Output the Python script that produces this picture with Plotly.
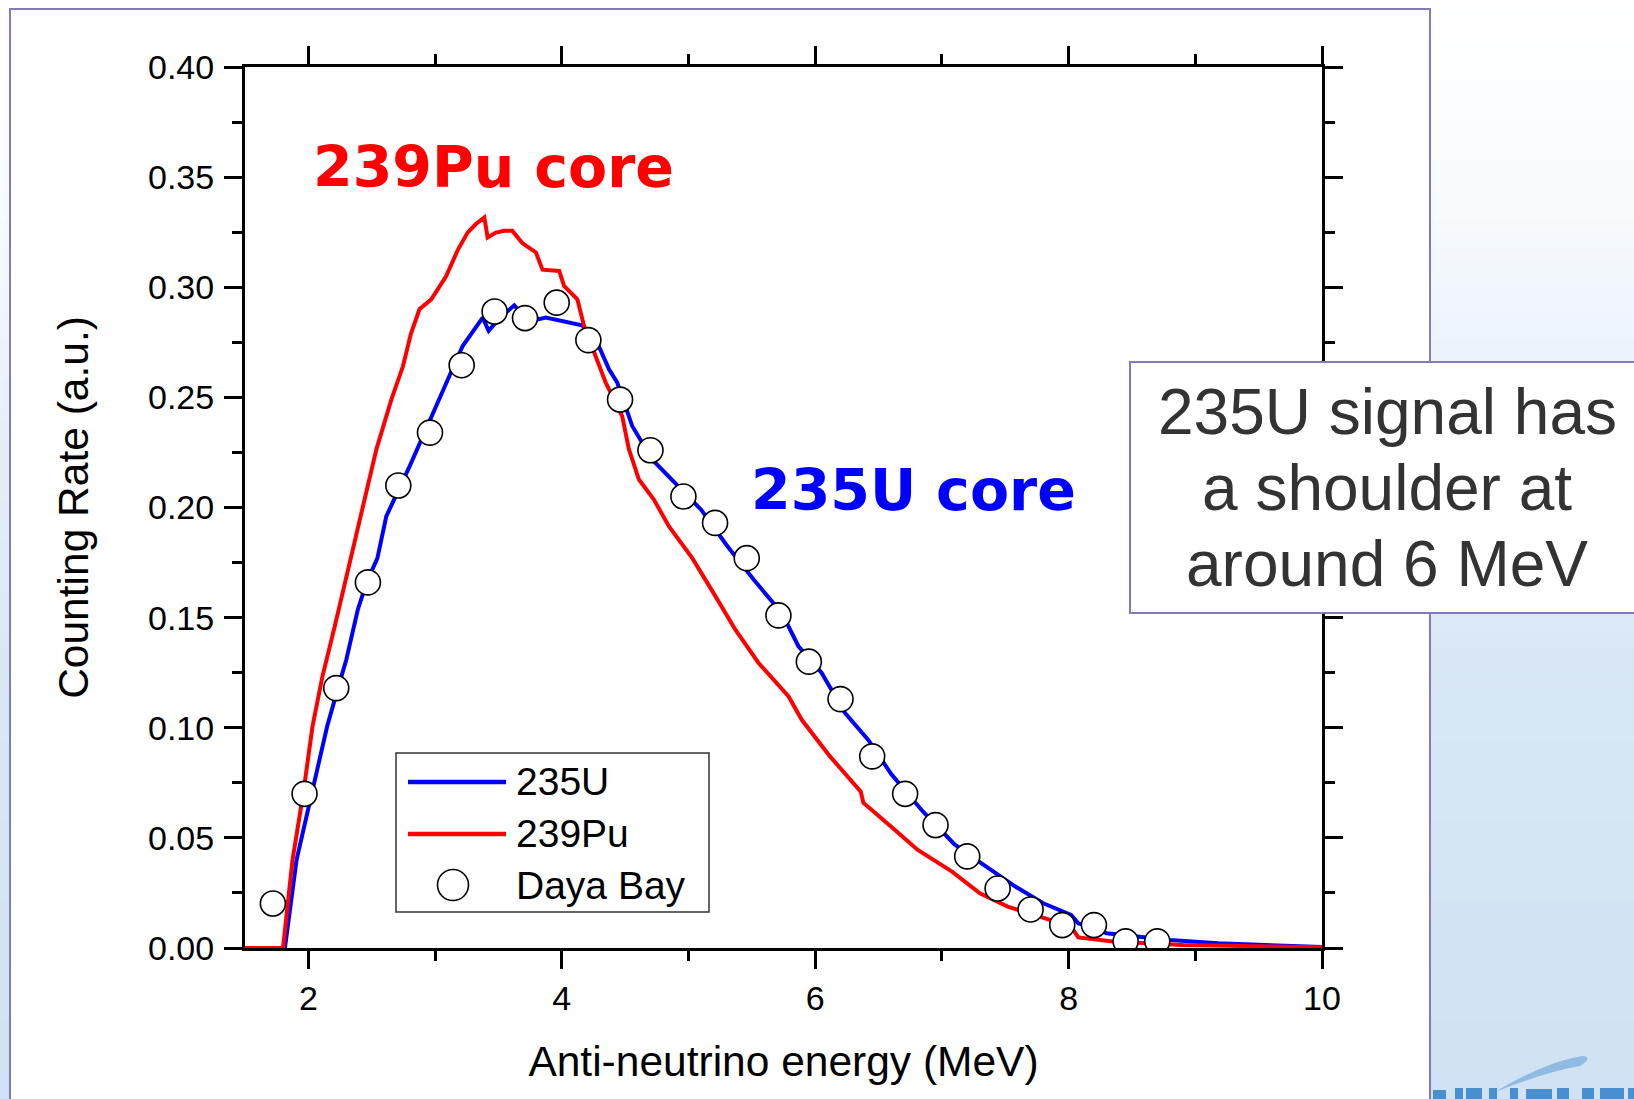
import plotly.graph_objects as go

# ---------------- data ----------------
u235_energy = [1.50, 1.815, 1.907, 2.025, 2.148, 2.234, 2.30, 2.39, 2.46, 2.545, 2.615,
               2.80, 2.97, 3.113, 3.218, 3.376, 3.423, 3.48, 3.56, 3.625, 3.664, 3.82,
               3.874, 4.005, 4.16, 4.268, 4.373, 4.438, 4.556, 4.713, 4.898, 5.10, 5.30,
               5.514, 5.737, 5.868, 6.05, 6.236, 6.419, 6.60, 6.85, 7.10, 7.31, 7.58,
               7.80, 8.02, 8.077, 8.30, 8.80, 9.18, 10.0]
u235_rate = [0.0, 0.0, 0.040, 0.0703, 0.1006, 0.118, 0.131, 0.1536, 0.166, 0.177, 0.196,
             0.2188, 0.2415, 0.2597, 0.2733, 0.2862, 0.2802, 0.284, 0.2885, 0.2918, 0.2892, 0.2855,
             0.2862, 0.2847, 0.2827, 0.2764, 0.2627, 0.2567, 0.237, 0.2218, 0.2112, 0.199, 0.183,
             0.1673, 0.152, 0.137, 0.125, 0.1067, 0.0945, 0.079, 0.062, 0.047, 0.0385, 0.0279,
             0.0203, 0.015, 0.0112, 0.0067, 0.0036, 0.0021, 0.0005]

pu239_energy = [1.50, 1.80, 1.875, 1.96, 2.033, 2.11, 2.208, 2.30, 2.34, 2.444, 2.537,
                2.655, 2.746, 2.81, 2.877, 2.97, 3.087, 3.18, 3.257, 3.32, 3.389, 3.415,
                3.48, 3.546, 3.61, 3.69, 3.796, 3.848, 3.98, 4.018, 4.123, 4.176, 4.268,
                4.347, 4.477, 4.53, 4.609, 4.727, 4.845, 5.03, 5.21, 5.37, 5.553, 5.79,
                5.894, 6.117, 6.36, 6.38, 6.60, 6.81, 7.08, 7.30, 7.52, 7.80, 8.02,
                8.077, 8.35, 8.90, 10.0]
pu239_rate = [0.0, 0.0, 0.040, 0.0703, 0.1006, 0.123, 0.146, 0.169, 0.177, 0.2036, 0.2264,
              0.249, 0.264, 0.279, 0.290, 0.2945, 0.305, 0.317, 0.3248, 0.3286, 0.3317, 0.3226,
              0.3248, 0.3256, 0.3256, 0.320, 0.3158, 0.308, 0.3074, 0.3006, 0.2945, 0.2824, 0.2688,
              0.2567, 0.2415, 0.2264, 0.2127, 0.2036, 0.1915, 0.177, 0.160, 0.1445, 0.1294, 0.1142,
              0.1036, 0.087, 0.071, 0.066, 0.055, 0.0445, 0.0347, 0.0248, 0.0188, 0.0135, 0.0097,
              0.0048, 0.0029, 0.0014, 0.0003]

dayabay_energy = [1.72, 1.97, 2.22, 2.47, 2.71, 2.96, 3.21, 3.47, 3.71, 3.96, 4.21, 4.46,
                  4.70, 4.96, 5.21, 5.46, 5.71, 5.95, 6.20, 6.45, 6.71, 6.95, 7.20, 7.44,
                  7.70, 7.95, 8.20, 8.45, 8.70]
dayabay_rate = [0.0202, 0.070, 0.118, 0.166, 0.210, 0.234, 0.2646, 0.289, 0.286, 0.293, 0.276, 0.249,
                0.226, 0.205, 0.193, 0.177, 0.151, 0.130, 0.113, 0.087, 0.070, 0.0558, 0.0416, 0.027,
                0.0175, 0.0104, 0.0104, 0.003, 0.003]

x_tick_values = [2, 4, 6, 8, 10]
x_minor_values = [3, 5, 7, 9]
y_tick_values = [0.00, 0.05, 0.10, 0.15, 0.20, 0.25, 0.30, 0.35, 0.40]
y_tick_labels = ["0.00", "0.05", "0.10", "0.15", "0.20", "0.25", "0.30", "0.35", "0.40"]
y_minor_values = [0.025, 0.075, 0.125, 0.175, 0.225, 0.275, 0.325, 0.375]

series_names = ["235U", "239Pu", "Daya Bay"]
info_lines = ["235U signal has", "a shoulder at", "around 6 MeV"]

# ---------------- layout geometry ----------------
W, H = 1634, 1099
L, R, T, B = 245, 1322, 67, 948


def px(x):
    return (x - L) / (R - L)


def py(y):
    return (B - y) / (B - T)


ARIAL = "Arial, 'Liberation Sans', sans-serif"
BLUE = "#0000ff"
RED = "#ff0000"
PURPLE = "#8478c0"
LOGO = "#4a8fd0"

fig = go.Figure()

fig.add_trace(go.Scatter(x=u235_energy, y=u235_rate, mode="lines", name=series_names[0],
                         line=dict(color=BLUE, width=4), cliponaxis=False, showlegend=False))
fig.add_trace(go.Scatter(x=pu239_energy, y=pu239_rate, mode="lines", name=series_names[1],
                         line=dict(color=RED, width=4), cliponaxis=False, showlegend=False))
fig.add_trace(go.Scatter(x=dayabay_energy, y=dayabay_rate, mode="markers", name=series_names[2],
                         marker=dict(symbol="circle", size=25, color="white",
                                     line=dict(color="black", width=1.6)),
                         cliponaxis=True, showlegend=False))

shapes = []
# background gradient (slide background)
stops = [(0, (255, 255, 255)), (200, (248, 251, 254)), (450, (228, 238, 248)),
         (700, (216, 231, 245)), (1099, (208, 226, 243))]
step = 10
for y0 in range(0, H, step):
    yc = y0 + step / 2
    for i in range(len(stops) - 1):
        if stops[i][0] <= yc <= stops[i + 1][0]:
            a, ca = stops[i]
            b, cb = stops[i + 1]
            t = (yc - a) / (b - a)
            col = tuple(round(ca[k] + (cb[k] - ca[k]) * t) for k in range(3))
            break
    shapes.append(dict(type="rect", xref="paper", yref="paper", layer="below",
                       x0=px(-5), x1=px(W + 5), y0=py(y0), y1=py(y0 + step + 1),
                       fillcolor="rgb(%d,%d,%d)" % col, line=dict(width=0)))
# logo swoosh
shapes.append(dict(type="path", xref="paper", yref="paper", layer="below",
                   path="M %f,%f Q %f,%f %f,%f Q %f,%f %f,%f Q %f,%f %f,%f Z" % (
                       px(1495), py(1092), px(1545), py(1062), px(1582), py(1056),
                       px(1594), py(1057), px(1580), py(1066),
                       px(1545), py(1072), px(1495), py(1092)),
                   fillcolor="#8fbbe3", line=dict(width=0)))
# tops of the logo lettering (cut by the picture edge)
for x0, x1, y0 in [(1433, 1446, 1090), (1455, 1463, 1088), (1466, 1482, 1088),
                   (1489, 1497, 1088), (1510, 1518, 1088), (1526, 1552, 1089),
                   (1557, 1569, 1088), (1582, 1594, 1088), (1600, 1624, 1088),
                   (1628, 1640, 1088)]:
    shapes.append(dict(type="rect", xref="paper", yref="paper", layer="below",
                       x0=px(x0), x1=px(x1), y0=py(y0), y1=py(H + 5),
                       fillcolor=LOGO, line=dict(width=0)))
# white slide panel with purple outline
shapes.append(dict(type="rect", xref="paper", yref="paper", layer="below",
                   x0=px(10), x1=px(1430), y0=py(9), y1=py(1130),
                   fillcolor="white", line=dict(color=PURPLE, width=2)))
# legend box and symbols
shapes.append(dict(type="rect", xref="paper", yref="paper", layer="above",
                   x0=px(396), x1=px(709), y0=py(753), y1=py(912),
                   fillcolor="white", line=dict(color="#333333", width=1.5)))
shapes.append(dict(type="line", xref="paper", yref="paper", layer="above",
                   x0=px(408), x1=px(506), y0=py(782), y1=py(782),
                   line=dict(color=BLUE, width=4.5)))
shapes.append(dict(type="line", xref="paper", yref="paper", layer="above",
                   x0=px(408), x1=px(506), y0=py(834), y1=py(834),
                   line=dict(color=RED, width=4.5)))
shapes.append(dict(type="circle", xref="paper", yref="paper", layer="above",
                   x0=px(453 - 15.5), x1=px(453 + 15.5), y0=py(885 - 15.5), y1=py(885 + 15.5),
                   fillcolor="white", line=dict(color="black", width=1.6)))
# info text box
shapes.append(dict(type="rect", xref="paper", yref="paper", layer="above",
                   x0=px(1130), x1=px(1660), y0=py(362), y1=py(613),
                   fillcolor="white", line=dict(color=PURPLE, width=2)))

annotations = []
# legend labels
for name, yy in zip(series_names, [781.5, 833.5, 885]):
    annotations.append(dict(text=name, xref="paper", yref="paper", x=px(514), y=py(yy),
                            xanchor="left", yanchor="middle", showarrow=False,
                            font=dict(family=ARIAL, size=39, color="black")))
# in-plot labels
annotations.append(dict(text="239Pu core", xref="paper", yref="paper", x=px(493), y=py(166.5),
                        xanchor="center", yanchor="middle", showarrow=False,
                        font=dict(family="DejaVu Sans", size=57, color=RED, weight="bold")))
annotations.append(dict(text="235U core", xref="paper", yref="paper", x=px(913), y=py(490),
                        xanchor="center", yanchor="middle", showarrow=False,
                        font=dict(family="DejaVu Sans", size=57, color=BLUE, weight="bold")))
# info box text
for line_text, yy in zip(info_lines, [412, 488, 564]):
    annotations.append(dict(text=line_text, xref="paper", yref="paper", x=px(1387), y=py(yy),
                            xanchor="center", yanchor="middle", showarrow=False,
                            font=dict(family=ARIAL, size=64, color="#333333")))

axis_common = dict(showline=True, linecolor="black", linewidth=3, mirror="allticks",
                   ticks="outside", ticklen=18, tickwidth=3, tickcolor="black",
                   showgrid=False, zeroline=False, layer="below traces", automargin=False,
                   tickfont=dict(family=ARIAL, size=34, color="black"))

fig.update_layout(
    width=W, height=H,
    margin=dict(l=L, r=W - R, t=T, b=H - B, autoexpand=False),
    paper_bgcolor="white", plot_bgcolor="rgba(0,0,0,0)",
    showlegend=False,
    shapes=shapes, annotations=annotations,
    xaxis=dict(range=[1.5, 10], tickvals=x_tick_values,
               minor=dict(ticks="outside", ticklen=10, tickwidth=3, tickcolor="black",
                          tickvals=x_minor_values),
               title=dict(text="Anti-neutrino energy (MeV)", standoff=31,
                          font=dict(family=ARIAL, size=42.5, color="black")),
               **axis_common),
    yaxis=dict(range=[0, 0.40], tickvals=y_tick_values, ticktext=y_tick_labels,
               ticklabelstandoff=3,
               minor=dict(ticks="outside", ticklen=10, tickwidth=3, tickcolor="black",
                          tickvals=y_minor_values),
               title=dict(text="Counting Rate (a.u.)", standoff=47,
                          font=dict(family=ARIAL, size=42.5, color="black")),
               **axis_common),
)

fig.write_html("out.html")
